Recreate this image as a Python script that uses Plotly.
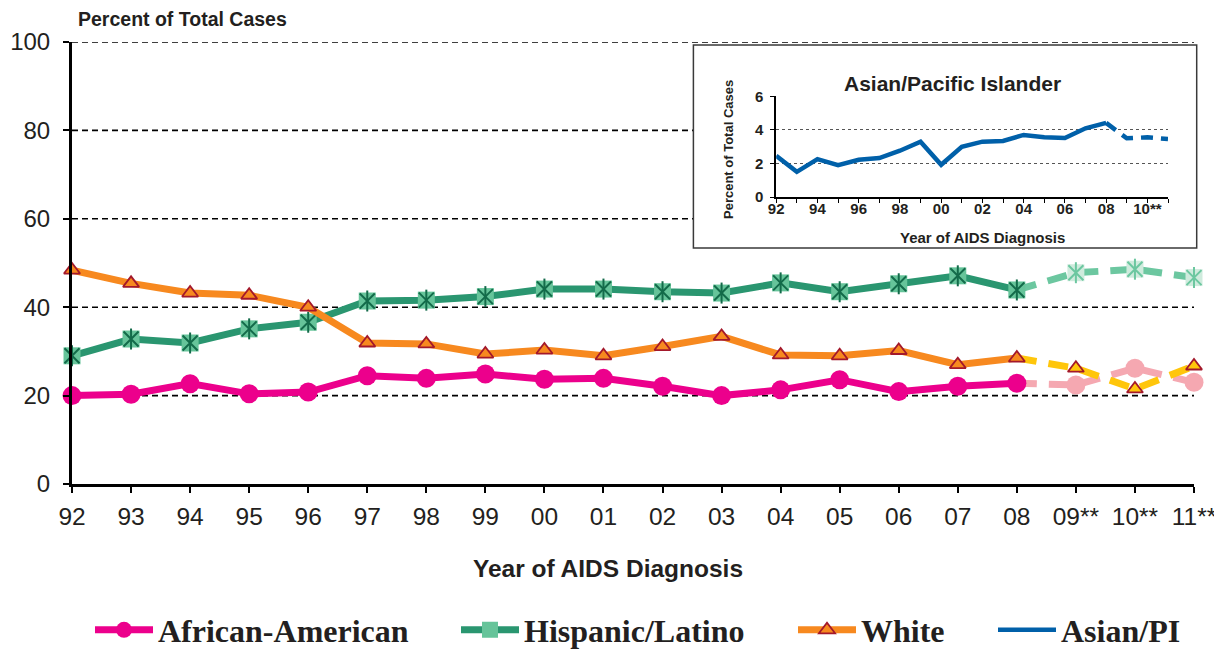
import plotly.graph_objects as go

# ---------------- data ----------------
years = ["92", "93", "94", "95", "96", "97", "98", "99", "00", "01", "02", "03",
         "04", "05", "06", "07", "08", "09**", "10**", "11**"]
n_obs = 17  # 92..08 observed, 09**..11** estimated

african = [20.0, 20.3, 22.7, 20.4, 20.8, 24.5, 23.9, 24.9, 23.7, 23.9, 22.1, 20.0,
           21.3, 23.6, 20.9, 22.1, 22.8, 22.4, 26.2, 23.0]
hispanic = [29.0, 32.8, 31.9, 35.1, 36.6, 41.4, 41.6, 42.4, 44.1, 44.1, 43.5, 43.2,
            45.5, 43.5, 45.3, 47.1, 43.9, 47.8, 48.6, 46.7]
white = [48.4, 45.4, 43.2, 42.7, 40.0, 31.9, 31.7, 29.4, 30.3, 29.0, 31.1, 33.4,
         29.2, 29.0, 30.2, 27.0, 28.5, 26.2, 21.5, 26.7]

inset_years = list(range(1992, 2012))
asian = [2.46, 1.5, 2.26, 1.9, 2.22, 2.32, 2.76, 3.3, 1.92, 3.0, 3.3, 3.34,
         3.7, 3.56, 3.52, 4.1, 4.42, 3.5, 3.56, 3.46]
inset_tickvals = [1992, 1994, 1996, 1998, 2000, 2002, 2004, 2006, 2008, 2010]
inset_ticktext = ["92", "94", "96", "98", "00", "02", "04", "06", "08", "10**"]

y_ticks = [0, 20, 40, 60, 80, 100]
inset_y_ticks = [0, 2, 4, 6]

# ---------------- styles ----------------
TXT = "#231F20"
MAGENTA = "#EC008C"
PINK_LT = "#F5A8B1"
GREEN = "#2A9670"
GREEN_DK = "#136B4A"
GREEN_FILL = "#66C49A"
GREEN_PALE = "#CFEBDD"
GREEN_LT = "#6CC7A0"
ORANGE = "#F7891F"
YELLOW = "#FFC60B"
DARKRED = "#A3182B"
BLUE = "#0060A9"
SANS = "Liberation Sans, Arial, sans-serif"
SERIF = "Liberation Serif, Times New Roman, serif"
DASH = "20px,12px"

# page offset of the figure (default body margin of the html page)
OFF = 8
W, H = 1222 - OFF, 650 - OFF
L = 72 - OFF
T = 42 - OFF
R = W - (1194 - OFF)
B = H - (484 - OFF)
PW, PH = W - L - R, H - T - B


def px(xp):
    """page x pixel -> paper x"""
    return (xp - OFF - L) / PW


def py(yp):
    """page y pixel -> paper y"""
    return (H - B - (yp - OFF)) / PH


fig = go.Figure()

obs_x = years[:n_obs]
est_x = years[n_obs - 1:]

# --- African-American ---
fig.add_trace(go.Scatter(x=est_x, y=african[n_obs - 1:], mode="lines",
                         line=dict(color=PINK_LT, width=7, dash=DASH),
                         showlegend=False, cliponaxis=False, hoverinfo="skip"))
fig.add_trace(go.Scatter(x=years[n_obs:], y=african[n_obs:], mode="markers",
                         marker=dict(symbol="circle", size=19, color=PINK_LT),
                         showlegend=False, cliponaxis=False))
fig.add_trace(go.Scatter(x=obs_x, y=african[:n_obs], mode="lines+markers",
                         name="African-American", legend="legend",
                         line=dict(color=MAGENTA, width=7),
                         marker=dict(symbol="circle", size=19, color=MAGENTA),
                         cliponaxis=False))

# --- Hispanic/Latino ---
fig.add_trace(go.Scatter(x=est_x, y=hispanic[n_obs - 1:], mode="lines",
                         line=dict(color=GREEN_LT, width=7, dash=DASH),
                         showlegend=False, cliponaxis=False, hoverinfo="skip"))
fig.add_trace(go.Scatter(x=years[n_obs:], y=hispanic[n_obs:], mode="markers",
                         marker=dict(symbol="square", size=17, color=GREEN_PALE),
                         showlegend=False, cliponaxis=False))
for sym in ["x-thin-open", "line-ns-open"]:
    fig.add_trace(go.Scatter(x=years[n_obs:], y=hispanic[n_obs:], mode="markers",
                             marker=dict(symbol=sym, size=15, color=GREEN_LT,
                                         line=dict(color=GREEN_LT, width=2)),
                             showlegend=False, cliponaxis=False, hoverinfo="skip"))
fig.add_trace(go.Scatter(x=obs_x, y=hispanic[:n_obs], mode="lines+markers",
                         name="Hispanic/Latino", legend="legend2",
                         line=dict(color=GREEN, width=7),
                         marker=dict(symbol="square", size=17, color=GREEN_FILL),
                         cliponaxis=False))
for sym in ["x-thin-open", "line-ns-open"]:
    fig.add_trace(go.Scatter(x=obs_x, y=hispanic[:n_obs], mode="markers",
                             marker=dict(symbol=sym, size=15, color=GREEN_DK,
                                         line=dict(color=GREEN_DK, width=2)),
                             showlegend=False, cliponaxis=False, hoverinfo="skip"))

# --- White ---
fig.add_trace(go.Scatter(x=est_x, y=white[n_obs - 1:], mode="lines",
                         line=dict(color=YELLOW, width=7, dash=DASH),
                         showlegend=False, cliponaxis=False, hoverinfo="skip"))
fig.add_trace(go.Scatter(x=years[n_obs:], y=white[n_obs:], mode="markers",
                         marker=dict(symbol="triangle-up", size=14, color=YELLOW,
                                     line=dict(color=DARKRED, width=1.8)),
                         showlegend=False, cliponaxis=False))
fig.add_trace(go.Scatter(x=obs_x, y=white[:n_obs], mode="lines+markers",
                         name="White", legend="legend3",
                         line=dict(color=ORANGE, width=7),
                         marker=dict(symbol="triangle-up", size=14, color=ORANGE,
                                     line=dict(color=DARKRED, width=1.8)),
                         cliponaxis=False))

# --- Asian/PI inset ---
fig.add_trace(go.Scatter(x=inset_years[:n_obs], y=asian[:n_obs], mode="lines",
                         name="Asian/PI", legend="legend4",
                         line=dict(color=BLUE, width=4.5),
                         xaxis="x2", yaxis="y2"))
fig.add_trace(go.Scatter(x=inset_years[n_obs - 1:], y=asian[n_obs - 1:], mode="lines",
                         line=dict(color=BLUE, width=4.5, dash="12px,8px"),
                         showlegend=False, xaxis="x2", yaxis="y2"))

# ---------------- gridlines + inset box (shapes below) ----------------
shapes = []
for v in y_ticks[1:]:
    shapes.append(dict(type="line", xref="paper", yref="y", x0=0, x1=1, y0=v, y1=v,
                       line=dict(color="black", width=1.6, dash="6px,4px"), layer="below"))
shapes.append(dict(type="rect", xref="paper", yref="paper",
                   x0=px(693.4), x1=px(1196.7), y0=py(248), y1=py(45),
                   fillcolor="white", line=dict(color="#3a3a3a", width=1.5), layer="below"))

annotations = [
    dict(text="<b>Percent of Total Cases</b>", xref="paper", yref="paper",
         x=px(76), y=py(19.5), xanchor="left", yanchor="middle", showarrow=False,
         font=dict(family=SANS, size=19.5, color=TXT)),
    dict(text="<b>Year of AIDS Diagnosis</b>", xref="paper", yref="paper",
         x=px(608), y=py(568), xanchor="center", yanchor="middle", showarrow=False,
         font=dict(family=SANS, size=24.5, color=TXT)),
    dict(text="<b>Asian/Pacific Islander</b>", xref="paper", yref="paper",
         x=px(952.6), y=py(83), xanchor="center", yanchor="middle",
         showarrow=False, font=dict(family=SANS, size=21, color=TXT)),
    dict(text="<b>Percent of Total Cases</b>", xref="paper", yref="paper",
         x=px(728), y=py(150), xanchor="center", yanchor="middle",
         textangle=-90, showarrow=False, font=dict(family=SANS, size=13, color=TXT)),
    dict(text="<b>Year of AIDS Diagnosis</b>", xref="paper", yref="paper",
         x=px(982), y=py(237), xanchor="center", yanchor="middle",
         showarrow=False, font=dict(family=SANS, size=15, color=TXT)),
]

legend_font = dict(family=SERIF, size=32, color=TXT, weight="bold")


def leg(x_symbol):
    return dict(orientation="h", x=px(x_symbol - 8), xanchor="left",
                y=py(630), yanchor="middle", bgcolor="rgba(0,0,0,0)",
                itemwidth=58, font=legend_font)


fig.update_layout(
    width=W, height=H, template="none",
    margin=dict(l=L, r=R, t=T, b=B, autoexpand=False),
    paper_bgcolor="white", plot_bgcolor="rgba(0,0,0,0)",
    font=dict(family=SANS, color=TXT),
    shapes=shapes, annotations=annotations,
    xaxis=dict(type="category", categoryorder="array", categoryarray=years,
               range=[0, len(years) - 1], showgrid=False, zeroline=False,
               automargin=False,
               showline=True, linecolor="black", linewidth=3,
               ticks="outside", ticklen=6, tickwidth=2, tickcolor="black",
               ticklabelstandoff=3,
               tickfont=dict(family=SANS, size=24.5, color=TXT)),
    yaxis=dict(range=[0, 100], tickvals=y_ticks, showgrid=False, zeroline=False,
               automargin=False,
               showline=True, linecolor="black", linewidth=3,
               ticks="outside", ticklen=6, tickwidth=2, tickcolor="black",
               ticklabelstandoff=8,
               tickfont=dict(family=SANS, size=24, color=TXT)),
    xaxis2=dict(domain=[px(776.2), px(1168)], anchor="y2", range=[1992, 2011],
                tickvals=inset_tickvals, ticktext=inset_ticktext, automargin=False,
                showgrid=False, zeroline=False, showline=True, linecolor="black",
                linewidth=1.5, ticks="outside", ticklen=4, tickwidth=1, tickcolor="black",
                ticklabelstandoff=-7,
                minor=dict(dtick=1, tick0=1992, ticks="outside", ticklen=4, tickcolor="black"),
                tickfont=dict(family=SANS, size=15, color=TXT, weight="bold")),
    yaxis2=dict(domain=[py(197), py(96.4)], anchor="x2", range=[0, 6], automargin=False,
                tickvals=inset_y_ticks, showgrid=True, gridcolor="#555555",
                griddash="dot", gridwidth=1, zeroline=False, showline=True,
                linecolor="black", linewidth=1.5, ticks="outside", ticklen=4,
                tickcolor="black", ticklabelstandoff=4,
                tickfont=dict(family=SANS, size=15, color=TXT, weight="bold")),
    legend=leg(98), legend2=leg(464), legend3=leg(801), legend4=leg(1001),
    showlegend=True,
)

fig.write_html("out.html")
